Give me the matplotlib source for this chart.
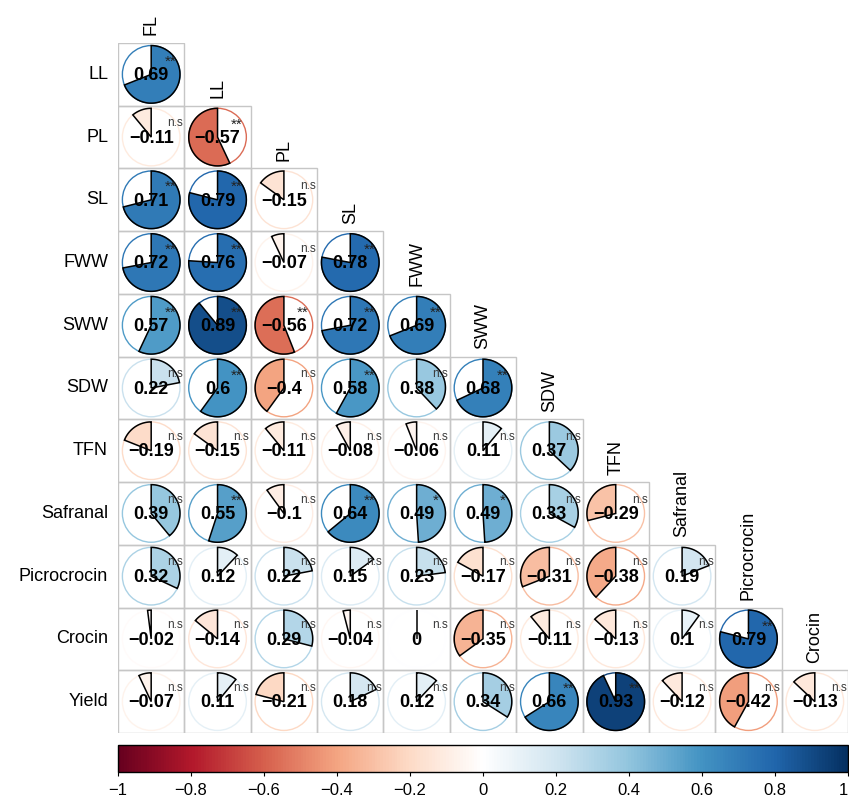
import numpy as np
import matplotlib
matplotlib.use('Agg')
import matplotlib.pyplot as plt
import matplotlib as mpl
from matplotlib.colors import LinearSegmentedColormap, Normalize
from matplotlib.patches import Polygon, Rectangle, Ellipse

plt.rcParams['font.family'] = ['Liberation Sans', 'DejaVu Sans']

variables = ["FL", "LL", "PL", "SL", "FWW", "SWW", "SDW", "TFN",
             "Safranal", "Picrocrocin", "Crocin", "Yield"]

# lower triangle: correlations of each row variable with the preceding variables
r_LL = [0.69]
r_PL = [-0.11, -0.57]
r_SL = [0.71, 0.79, -0.15]
r_FWW = [0.72, 0.76, -0.07, 0.78]
r_SWW = [0.57, 0.89, -0.56, 0.72, 0.69]
r_SDW = [0.22, 0.6, -0.4, 0.58, 0.38, 0.68]
r_TFN = [-0.19, -0.15, -0.11, -0.08, -0.06, 0.11, 0.37]
r_Safranal = [0.39, 0.55, -0.1, 0.64, 0.49, 0.49, 0.33, -0.29]
r_Picrocrocin = [0.32, 0.12, 0.22, 0.15, 0.23, -0.17, -0.31, -0.38, 0.19]
r_Crocin = [-0.02, -0.14, 0.29, -0.04, 0, -0.35, -0.11, -0.13, 0.1, 0.79]
r_Yield = [-0.07, 0.11, -0.21, 0.18, 0.12, 0.34, 0.66, 0.93, -0.12, -0.42, -0.13]

s_LL = ["**"]
s_PL = ["n.s", "**"]
s_SL = ["**", "**", "n.s"]
s_FWW = ["**", "**", "n.s", "**"]
s_SWW = ["**", "**", "**", "**", "**"]
s_SDW = ["n.s", "**", "n.s", "**", "n.s", "**"]
s_TFN = ["n.s"] * 7
s_Safranal = ["n.s", "**", "n.s", "**", "*", "*", "n.s", "n.s"]
s_Picrocrocin = ["n.s"] * 9
s_Crocin = ["n.s"] * 9 + ["**"]
s_Yield = ["n.s"] * 6 + ["**", "**", "n.s", "n.s", "n.s"]

rows = [r_LL, r_PL, r_SL, r_FWW, r_SWW, r_SDW, r_TFN, r_Safranal,
        r_Picrocrocin, r_Crocin, r_Yield]
sigs = [s_LL, s_PL, s_SL, s_FWW, s_SWW, s_SDW, s_TFN, s_Safranal,
        s_Picrocrocin, s_Crocin, s_Yield]

cb_ticks = [-1, -0.8, -0.6, -0.4, -0.2, 0, 0.2, 0.4, 0.6, 0.8, 1]

rdbu = ["#67001F", "#B2182B", "#D6604D", "#F4A582", "#FDDBC7", "#FFFFFF",
        "#D1E5F0", "#92C5DE", "#4393C3", "#2166AC", "#053061"]
cmap = LinearSegmentedColormap.from_list("corrRdBu", rdbu, N=256)
norm = Normalize(-1, 1)

W, H = 849, 798
fig = plt.figure(figsize=(W / 100, H / 100), dpi=100)

gx0, gx1, gy0, gy1 = 118, 848, 43, 733
n = len(rows)
ax = fig.add_axes([gx0 / W, 1 - gy1 / H, (gx1 - gx0) / W, (gy1 - gy0) / H])
ax.set_xlim(0, n)
ax.set_ylim(n, 0)
ax.axis('off')

cw = (gx1 - gx0) / n
ch = (gy1 - gy0) / n
rpx = 28.8
rx, ry = rpx / cw, rpx / ch

def fmt(v):
    return ('%g' % v).replace('-', '\u2212')

for i, (row, srow) in enumerate(zip(rows, sigs)):
    for j, (v, s) in enumerate(zip(row, srow)):
        cx, cy = j + 0.5, i + 0.5
        ax.add_patch(Rectangle((j, i), 1, 1, fill=False, ec='#c6c6c6', lw=1.0, zorder=1))
        col = cmap(norm(v))
        ax.add_patch(Ellipse((cx, cy), 2 * rx, 2 * ry, fill=False, ec=col, lw=1.0, zorder=2))
        th = np.radians(np.linspace(90, 90 - 360 * v, 100))
        px = cx + rx * np.cos(th)
        py = cy - ry * np.sin(th)
        pts = np.column_stack([np.r_[cx, px], np.r_[cy, py]])
        ax.add_patch(Polygon(pts, closed=True, fc=col, ec='black', lw=1.1, zorder=3))
        ax.text(cx, cy + 0.02, fmt(v), ha='center', va='center', fontsize=13,
                fontweight='bold', color='black', zorder=5)
        if s == 'n.s':
            ax.text(cx + 0.36, cy - 0.22, s, ha='center', va='center',
                    fontsize=8.5, color='#3a3a3a', zorder=6)
        else:
            ax.text(cx + 0.29, cy - 0.2, s, ha='center', va='center',
                    fontsize=11, color='#222222', zorder=6)

# row labels
for i in range(n):
    ax.text(-0.15, i + 0.5, variables[i + 1], ha='right', va='center',
            fontsize=13, color='black', clip_on=False)

# diagonal (column) labels
for j in range(n):
    ax.text(j + 0.5, j - 0.12, variables[j], ha='center', va='bottom',
            rotation=90, fontsize=13, color='black', clip_on=False)

# colorbar
cax = fig.add_axes([gx0 / W, 1 - 772 / H, (gx1 - gx0) / W, 27 / H])
cb = mpl.colorbar.ColorbarBase(cax, cmap=cmap, norm=norm, orientation='horizontal',
                               ticks=cb_ticks)
cb.set_ticklabels([fmt(t) for t in cb_ticks])
cb.ax.tick_params(labelsize=12, length=3, pad=5)
cb.ax.get_xticklabels()[-1].set_horizontalalignment('right')
cb.outline.set_linewidth(1.0)

fig.savefig('out.png', dpi=100)
